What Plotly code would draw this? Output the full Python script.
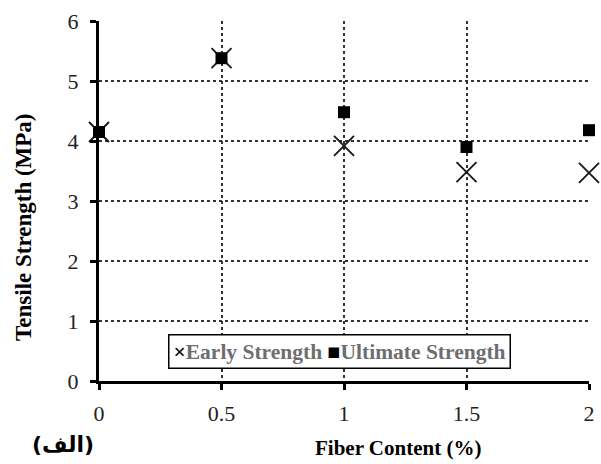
import plotly.graph_objects as go

fiber_content = [0, 0.5, 1, 1.5, 2]
early_strength = [4.15, 5.38, 3.92, 3.48, 3.47]
ultimate_strength = [4.15, 5.38, 4.48, 3.90, 4.18]
x_ticks = [0, 0.5, 1, 1.5, 2]
y_ticks = [0, 1, 2, 3, 4, 5, 6]

serif = "Liberation Serif, Times New Roman, serif"

W, H = 601, 464
L, R, T, B = 99, 6, 21, 83
pw, ph = W - L - R, H - T - B


def px(x):
    return (x - L) / pw


def py(y):
    return (H - B - y) / ph


fig = go.Figure()
fig.add_trace(go.Scatter(
    x=fiber_content, y=early_strength, mode="markers", name="Early Strength",
    marker=dict(symbol="x-thin", size=20, color="black",
                line=dict(color="#1a1a1a", width=1.9)),
    cliponaxis=False,
))
fig.add_trace(go.Scatter(
    x=fiber_content, y=ultimate_strength, mode="markers", name="Ultimate Strength",
    marker=dict(symbol="square", size=12, color="black"),
    cliponaxis=False,
))

grid = dict(showgrid=True, gridcolor="#333", griddash="dot", gridwidth=1.5)
axis_common = dict(
    showline=True, linecolor="black", linewidth=3,
    ticks="outside", ticklen=6, tickwidth=3, tickcolor="black",
    tickfont=dict(family=serif, size=22, color="#222"),
    zeroline=False, **grid,
)
fig.update_xaxes(range=[0, 2], tickvals=x_ticks,
                 ticktext=[str(v) for v in x_ticks],
                 ticklabelstandoff=5, **axis_common)
fig.update_yaxes(range=[0, 6], tickvals=y_ticks,
                 ticklabelstandoff=7, **axis_common)

# Legend drawn as a boxed text row inside the plot
legend_text = ("<span style='color:black'>×</span>Early Strength "
               "<span style='color:black'>■</span>Ultimate Strength")
annotations = [
    dict(text=legend_text, x=px(342), y=py(351),
         font=dict(family=serif, size=21.5, color="#6e6e6e", weight="bold"),
         bordercolor="black", borderwidth=1.5, borderpad=4, bgcolor="white"),
    dict(text="Fiber Content (%)", x=px(402), y=py(448),
         font=dict(family=serif, size=21, color="black", weight="bold")),
    dict(text="Tensile Strength (MPa)", textangle=-90, x=px(22), y=py(227),
         font=dict(family=serif, size=23, color="black", weight="bold")),
    dict(text="(الف)", x=px(63), y=py(444),
         font=dict(family="DejaVu Sans, sans-serif", size=22, color="black",
                   weight="bold")),
]
for a in annotations:
    a.update(xref="paper", yref="paper", xanchor="center", yanchor="middle",
             showarrow=False)

fig.update_layout(
    width=W, height=H, margin=dict(l=L, r=R, t=T, b=B),
    plot_bgcolor="white", paper_bgcolor="white",
    showlegend=False, annotations=annotations,
)
fig.write_html("out.html")
